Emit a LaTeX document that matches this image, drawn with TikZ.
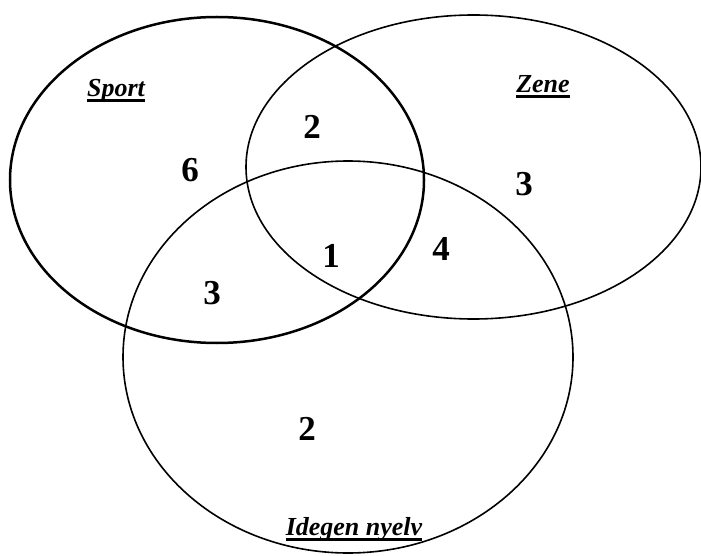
\documentclass[tikz,border=0pt]{standalone}
\usepackage{fontspec}
\setmainfont{Liberation Serif}
\newcommand\thickul[1]{\setbox0\hbox{#1}\rlap{\raisebox{-5.5pt}{\rule{\wd0}{3pt}}}\box0}
\begin{document}
\begin{tikzpicture}[x=1pt,y=-1pt,
  setline/.style={draw=black,line width=1.6pt},
  setlabel/.style={font=\fontsize{26}{28}\selectfont\bfseries\itshape,anchor=base,inner sep=0pt},
  count/.style={font=\fontsize{35}{38}\selectfont\bfseries,inner sep=0pt}]
\useasboundingbox (0,0) rectangle (701,556);
\draw[setline] (473.5,167) ellipse [x radius=227.5, y radius=152];
\draw[setline] (348,357) ellipse [x radius=225, y radius=196];
\draw[setline,line width=2.5pt] (217,180) ellipse [x radius=207, y radius=163];
\node[setlabel] (lsport) at (116,97) {\thickul{Sport}};
\node[setlabel] (lzene) at (543,93) {\thickul{Zene}};
\node[setlabel] (lidegen) at (354,535) {\thickul{Idegen nyelv}};
\node[count] (n6) at (190,170) {6};
\node[count] (n2a) at (312,127) {2};
\node[count] (n3a) at (524,184) {3};
\node[count] (n1) at (331,256) {1};
\node[count] (n4) at (441,249) {4};
\node[count] (n3b) at (212,293) {3};
\node[count] (n2b) at (307,429) {2};
\end{tikzpicture}
\end{document}
